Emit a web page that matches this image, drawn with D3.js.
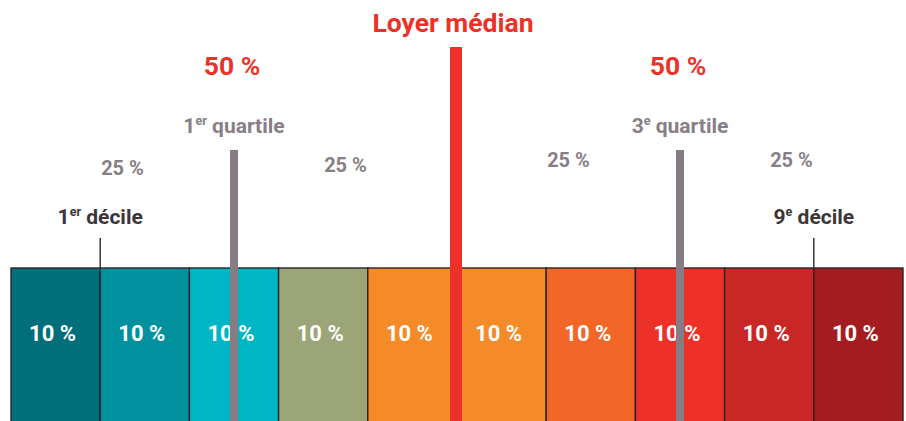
<!DOCTYPE html>
<html lang="fr">
<head>
<meta charset="utf-8">
<script src="https://cdn.jsdelivr.net/npm/d3@7"></script>
<style>
  html, body { margin: 0; padding: 0; background: #fff; }
  svg { display: block; font-family: Roboto, "Noto Sans", sans-serif; font-weight: 700; }
</style>
</head>
<body>
<svg id="chart" width="906" height="421"></svg>
<script>
// Ten slices of 10 % each, from the lowest rents to the highest
const slices = [10, 10, 10, 10, 10, 10, 10, 10, 10, 10];
const sliceLabels = ["10 %", "10 %", "10 %", "10 %", "10 %", "10 %", "10 %", "10 %", "10 %", "10 %"];
const sliceColors = ["#006f7b", "#00909e", "#00b5c4", "#9ca578", "#f58a29", "#f58a29", "#f26627", "#ee3128", "#c92725", "#a51c20"];

// Markers along the distribution (cumulative %)
const deciles = [
  { at: 10, main: "1", sup: "er", rest: " décile" },
  { at: 90, main: "9", sup: "e", rest: " décile" }
];
const quartiles = [
  { at: 25, main: "1", sup: "er", rest: " quartile" },
  { at: 75, main: "3", sup: "e", rest: " quartile" }
];
const median = { at: 50, label: "Loyer médian" };

// Shares between markers
const quarterSpans = [[0, 25], [25, 50], [50, 75], [75, 100]];
const quarterLabels = ["25 %", "25 %", "25 %", "25 %"];
const halfCenters = [25, 75];
const halfLabels = ["50 %", "50 %"];

const RED = "#ee3128", GREY = "#877e86", DARK = "#3d3537";

const svg = d3.select("#chart");
const W = 906, H = 421;
const x = d3.scaleLinear().domain([0, 100]).range([11, 903]);
const blockTop = 268;

// Cumulative start of each slice
const starts = d3.cumsum([0, ...slices]).slice(0, slices.length);

const blocks = svg.append("g");
blocks.selectAll("rect")
  .data(slices)
  .join("rect")
  .attr("x", (d, i) => x(starts[i]))
  .attr("y", blockTop)
  .attr("width", (d, i) => x(starts[i] + d) - x(starts[i]))
  .attr("height", H - blockTop + 5)
  .attr("fill", (d, i) => sliceColors[i])
  .attr("stroke", "#2b2326")
  .attr("stroke-width", 1.4);

blocks.selectAll("text")
  .data(slices)
  .join("text")
  .attr("x", (d, i) => x(starts[i] + d / 2) - 3)
  .attr("y", 341)
  .attr("text-anchor", "middle")
  .attr("fill", "#fff")
  .attr("font-size", 22)
  .text((d, i) => sliceLabels[i]);

// Decile ticks
svg.append("g").selectAll("line")
  .data(deciles)
  .join("line")
  .attr("x1", d => x(d.at)).attr("x2", d => x(d.at))
  .attr("y1", 238).attr("y2", blockTop)
  .attr("stroke", DARK)
  .attr("stroke-width", 1.5);

// Quartile bars
svg.append("g").selectAll("rect")
  .data(quartiles)
  .join("rect")
  .attr("x", d => x(d.at) - 4)
  .attr("y", 150)
  .attr("width", 8)
  .attr("height", H - 150 + 5)
  .attr("fill", "#857c84");

// Median bar
svg.append("rect")
  .attr("x", x(median.at) - 7)
  .attr("y", 47)
  .attr("width", 12)
  .attr("height", H - 47 + 5)
  .attr("fill", RED);

// Marker labels with superscripts
function markerLabel(sel, y, color, size) {
  const t = sel.append("text")
    .attr("x", d => x(d.at))
    .attr("y", y)
    .attr("text-anchor", "middle")
    .attr("fill", color)
    .attr("font-size", size);
  t.append("tspan").text(d => d.main);
  t.append("tspan").attr("font-size", size * 0.6).attr("dy", -size * 0.38).text(d => d.sup);
  t.append("tspan").attr("dy", size * 0.38).text(d => d.rest);
}
svg.append("g").selectAll("g").data(deciles).join("g").call(markerLabel, 224, DARK, 21);
svg.append("g").selectAll("g").data(quartiles).join("g").call(markerLabel, 133, GREY, 21);

svg.append("text")
  .attr("x", x(median.at) - 4)
  .attr("y", 32)
  .attr("text-anchor", "middle")
  .attr("fill", RED)
  .attr("font-size", 26.5)
  .text(median.label);

// Share labels
const quarterY = [175, 172, 167, 167];
svg.append("g").selectAll("text")
  .data(quarterSpans)
  .join("text")
  .attr("x", d => x((d[0] + d[1]) / 2))
  .attr("y", (d, i) => quarterY[i])
  .attr("text-anchor", "middle")
  .attr("fill", GREY)
  .attr("font-size", 20)
  .text((d, i) => quarterLabels[i]);

svg.append("g").selectAll("text")
  .data(halfCenters)
  .join("text")
  .attr("x", d => x(d) - 2)
  .attr("y", 75)
  .attr("text-anchor", "middle")
  .attr("fill", RED)
  .attr("font-size", 26.5)
  .text((d, i) => halfLabels[i]);
</script>
</body>
</html>
